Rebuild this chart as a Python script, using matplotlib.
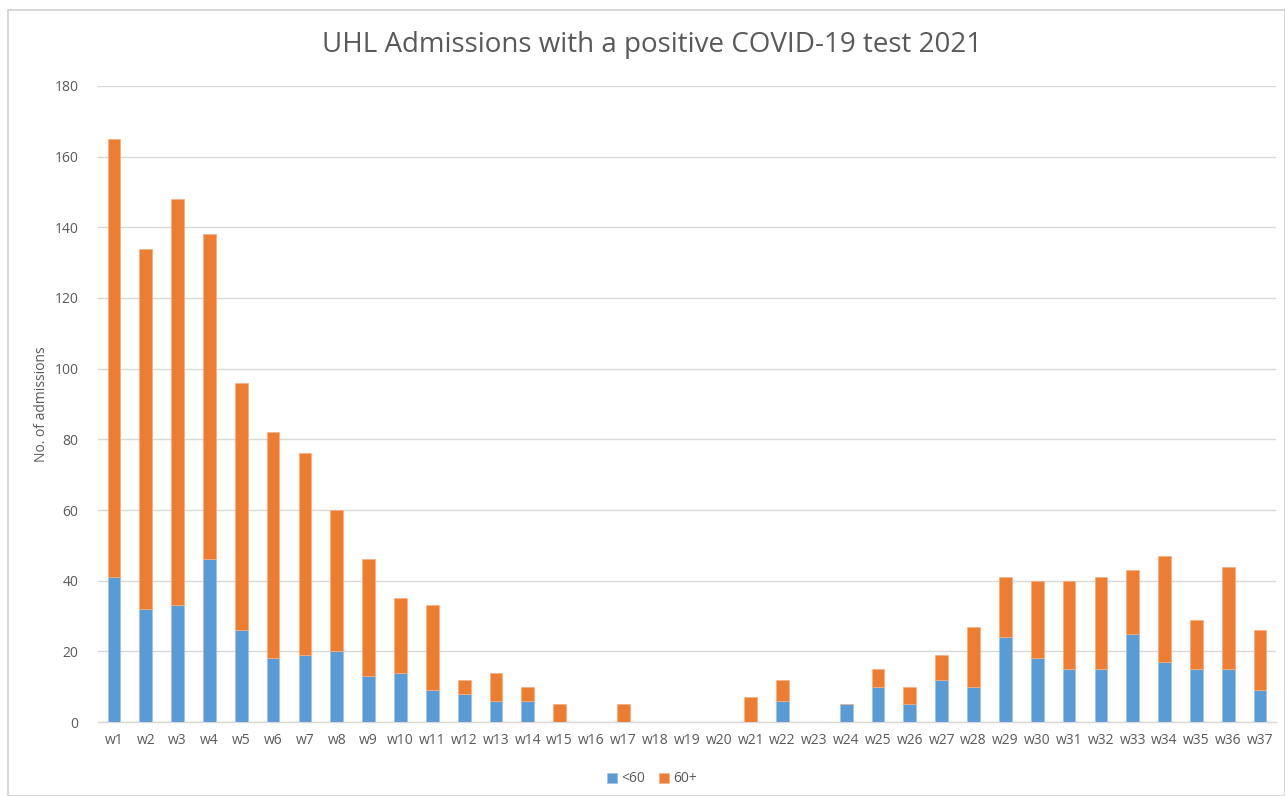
import matplotlib
matplotlib.use("Agg")
import matplotlib.pyplot as plt
from matplotlib.patches import Rectangle

weeks = [f"w{i}" for i in range(1, 38)]
under60 = [41, 32, 33, 46, 26, 18, 19, 20, 13, 14, 9, 8, 6, 6, 0, 0, 0, 0, 0, 0,
           0, 6, 0, 5, 10, 5, 12, 10, 24, 18, 15, 15, 25, 17, 15, 15, 9]
over60 = [124, 102, 115, 92, 70, 64, 57, 40, 33, 21, 24, 4, 8, 4, 5, 0, 5, 0, 0, 0,
          7, 6, 0, 0, 5, 5, 7, 17, 17, 22, 25, 26, 18, 30, 14, 29, 17]
yticks = list(range(0, 181, 20))

plt.rcParams['font.family'] = ['Open Sans', 'DejaVu Sans']
grey = '#595959'
blue = '#5B9BD5'
orange = '#ED7D31'

fig = plt.figure(figsize=(12.85, 7.96), dpi=100)
fig.patches.append(Rectangle((8/1285, 0), 1 - 8/1285, 1 - 10/796, transform=fig.transFigure,
                             fill=False, edgecolor='#d0d0d0', linewidth=1.2))
ax = fig.add_axes([98/1285, 1 - 722/796, (1276 - 98)/1285, (722 - 86)/796])

x = list(range(len(weeks)))
ax.bar(x, under60, width=0.4, color=blue, label='<60', edgecolor='#9DC3E6', linewidth=0.5, zorder=3)
ax.bar(x, over60, width=0.4, bottom=under60, color=orange, label='60+', edgecolor='#F4B183', linewidth=0.5, zorder=3)

ax.set_xlim(-0.5, len(weeks) - 0.5)
ax.set_ylim(0, 180)
ax.set_yticks(yticks)
ax.set_xticks(x)
ax.set_xticklabels(weeks)
ax.tick_params(axis='both', length=0, labelsize=10, colors=grey)
ax.tick_params(axis='y', pad=14)
ax.tick_params(axis='x', pad=8)
ax.grid(axis='y', color='#d9d9d9', linewidth=1, zorder=0)
for s in ['top', 'right', 'left']:
    ax.spines[s].set_visible(False)
ax.spines['bottom'].set_color('#d9d9d9')
ax.spines['bottom'].set_linewidth(1)
ax.set_ylabel('No. of admissions', fontsize=10, color=grey, labelpad=4)

fig.text(652/1285, 1 - 45/796, 'UHL Admissions with a positive COVID-19 test 2021',
         ha='center', va='center', fontsize=20, color=grey)

leg = fig.legend(loc='center', bbox_to_anchor=(652/1285, 1 - 779/796), ncol=2, frameon=False,
                 fontsize=10, handlelength=0.7, handleheight=0.7, handletextpad=0.3, columnspacing=1.0)
for t in leg.get_texts():
    t.set_color(grey)

fig.savefig('out.png', dpi=100)
